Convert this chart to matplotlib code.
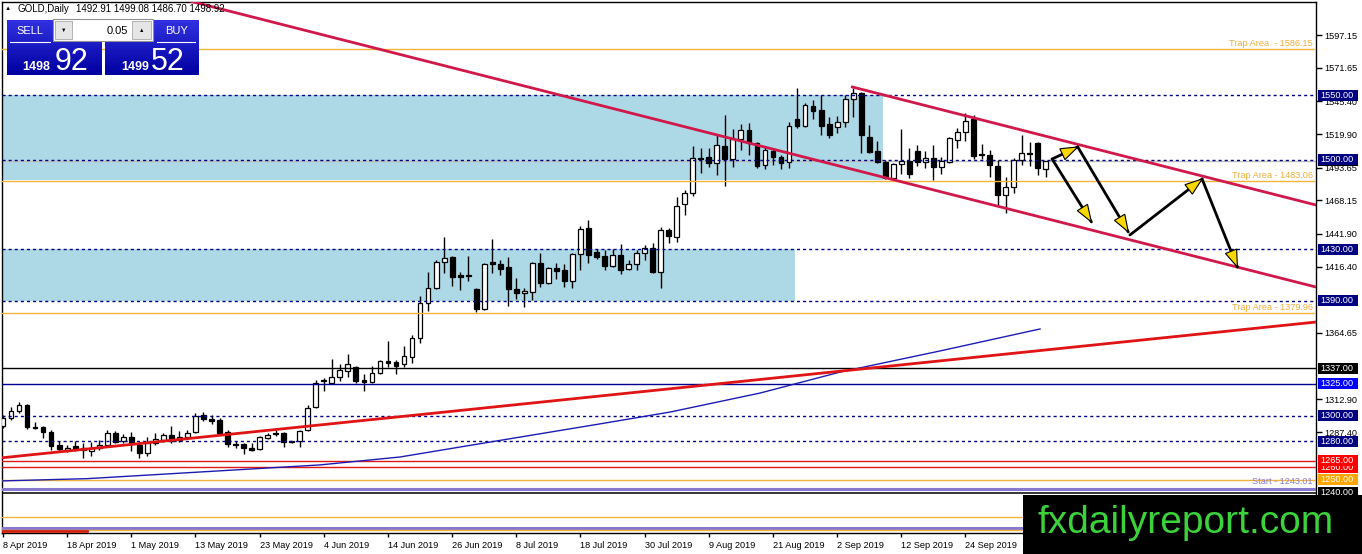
import matplotlib
matplotlib.use('Agg')
import matplotlib.pyplot as plt
from matplotlib.patches import Rectangle, Polygon
from matplotlib.transforms import IdentityTransform
import numpy as np

plt.rcParams['font.family'] = ['Liberation Sans', 'DejaVu Sans']

# ---------------- data ----------------
opens = [1292.1, 1298.3, 1303.8, 1308.5, 1291.3, 1291.3, 1287.4, 1277.3, 1273.4, 1276.5,
         1275.0, 1272.6, 1275.0, 1277.3, 1286.6, 1280.4, 1283.5, 1277.3, 1271.0, 1278.8,
         1281.2, 1285.1, 1281.2, 1283.5, 1287.4, 1300.7, 1297.5, 1296.8, 1287.4, 1278.1,
         1278.1, 1275.0, 1274.2, 1282.7, 1286.6, 1286.6, 1280.4, 1280.4, 1289.0, 1306.9,
         1327.2, 1325.6, 1330.3, 1335.0, 1338.1, 1328.0, 1326.4, 1333.4, 1342.8, 1342.0,
         1340.5, 1345.9, 1360.7, 1388.1, 1399.8, 1420.0, 1423.9, 1409.9, 1409.9, 1399.0,
         1383.4, 1420.0, 1418.5, 1416.1, 1399.0, 1395.9, 1396.6, 1419.3, 1403.7, 1415.4,
         1413.8, 1405.2, 1426.3, 1446.6, 1427.9, 1424.7, 1416.9, 1425.5, 1414.6, 1418.5,
         1427.1, 1431.0, 1412.2, 1445.0, 1439.6, 1465.3, 1473.9, 1501.2, 1502.0, 1497.3,
         1510.6, 1500.4, 1516.0, 1523.0, 1512.9, 1495.7, 1506.6, 1502.0, 1498.1, 1531.6,
         1526.2, 1541.8, 1538.6, 1527.7, 1525.4, 1529.3, 1547.2, 1551.9, 1517.6, 1506.6,
         1498.1, 1485.6, 1496.5, 1498.9, 1506.6, 1498.1, 1501.2, 1494.2, 1498.1, 1515.2,
         1521.5, 1531.6, 1504.3, 1503.5, 1494.9, 1472.3, 1478.6, 1499.6, 1505.1, 1512.9,
         1492.91]
highs = [1300.7, 1306.9, 1310.8, 1309.3, 1295.2, 1292.1, 1289.0, 1280.4, 1277.3, 1280.4,
         1278.8, 1279.6, 1281.2, 1289.0, 1288.2, 1285.8, 1287.4, 1279.6, 1283.5, 1286.6,
         1286.6, 1292.1, 1288.2, 1289.0, 1302.2, 1303.0, 1300.7, 1298.3, 1289.0, 1280.4,
         1278.8, 1278.8, 1284.3, 1286.6, 1289.0, 1287.4, 1280.7, 1289.0, 1308.5, 1328.0,
         1329.5, 1344.4, 1340.5, 1348.3, 1338.9, 1332.7, 1338.9, 1343.6, 1358.4, 1343.6,
         1354.5, 1363.1, 1393.5, 1412.2, 1421.6, 1439.6, 1424.7, 1412.2, 1424.7, 1399.8,
         1419.3, 1438.0, 1421.6, 1423.9, 1407.5, 1399.8, 1420.0, 1427.1, 1416.1, 1419.3,
         1418.5, 1427.1, 1448.1, 1452.8, 1430.2, 1429.4, 1430.2, 1434.1, 1421.6, 1429.4,
         1433.3, 1434.9, 1447.4, 1446.6, 1470.8, 1476.2, 1510.6, 1509.0, 1509.0, 1519.1,
         1534.7, 1523.8, 1527.7, 1528.5, 1513.7, 1509.8, 1508.2, 1503.5, 1529.3, 1555.8,
         1544.1, 1546.4, 1550.3, 1533.2, 1534.0, 1550.3, 1555.8, 1552.7, 1526.9, 1514.5,
         1499.6, 1497.3, 1523.8, 1509.0, 1511.3, 1506.6, 1511.3, 1502.0, 1517.6, 1524.6,
         1536.3, 1534.7, 1512.1, 1507.4, 1499.6, 1486.4, 1501.2, 1519.1, 1513.7, 1513.7,
         1499.08]
lows = [1290.5, 1296.8, 1302.2, 1289.8, 1289.8, 1282.7, 1273.4, 1272.6, 1271.8, 1272.6,
        1267.1, 1268.7, 1273.4, 1275.7, 1278.8, 1278.8, 1272.6, 1267.1, 1268.7, 1277.3,
        1279.6, 1278.8, 1279.6, 1282.7, 1286.6, 1296.0, 1293.6, 1285.1, 1275.7, 1275.0,
        1270.2, 1272.6, 1273.4, 1281.9, 1284.3, 1275.7, 1278.8, 1275.7, 1288.2, 1306.1,
        1319.4, 1324.9, 1327.2, 1330.3, 1325.6, 1319.4, 1325.6, 1332.7, 1338.1, 1332.7,
        1338.1, 1341.2, 1356.9, 1381.8, 1399.0, 1411.5, 1401.3, 1398.2, 1405.2, 1381.0,
        1382.6, 1411.5, 1409.9, 1385.7, 1391.2, 1384.9, 1390.4, 1400.5, 1402.9, 1406.8,
        1400.5, 1399.8, 1413.8, 1419.3, 1422.4, 1413.8, 1416.1, 1410.7, 1413.8, 1413.8,
        1421.6, 1411.5, 1399.8, 1434.9, 1435.7, 1456.7, 1471.5, 1489.5, 1494.2, 1487.9,
        1479.3, 1494.2, 1507.4, 1503.5, 1493.4, 1492.6, 1495.7, 1492.6, 1493.4, 1524.6,
        1525.4, 1531.6, 1519.1, 1516.8, 1520.7, 1525.4, 1533.2, 1505.1, 1505.1, 1497.3,
        1484.8, 1484.0, 1488.7, 1485.6, 1494.9, 1493.4, 1484.0, 1488.7, 1497.3, 1509.0,
        1514.5, 1500.4, 1500.4, 1486.4, 1463.7, 1458.3, 1473.9, 1495.7, 1494.9, 1488.0,
        1486.70]
closes = [1298.3, 1303.8, 1308.5, 1291.3, 1290.5, 1287.4, 1276.5, 1274.2, 1275.0, 1274.2,
          1273.4, 1275.0, 1277.3, 1286.6, 1279.6, 1283.5, 1278.1, 1271.0, 1278.8, 1281.9,
          1285.1, 1280.4, 1283.5, 1286.6, 1299.9, 1297.5, 1296.0, 1286.6, 1278.1, 1277.3,
          1275.0, 1273.4, 1283.5, 1285.1, 1285.8, 1279.6, 1279.6, 1288.2, 1306.1, 1325.6,
          1328.0, 1330.3, 1335.8, 1340.5, 1327.2, 1326.4, 1333.4, 1342.8, 1341.2, 1338.9,
          1346.7, 1360.7, 1388.1, 1399.8, 1420.0, 1423.2, 1408.3, 1408.3, 1409.1, 1383.4,
          1418.5, 1418.5, 1414.6, 1399.0, 1395.9, 1397.4, 1419.3, 1403.7, 1415.4, 1413.0,
          1405.2, 1426.3, 1445.8, 1425.5, 1423.9, 1416.9, 1425.5, 1413.8, 1418.5, 1427.1,
          1431.0, 1412.2, 1445.0, 1440.3, 1463.7, 1473.9, 1501.2, 1500.4, 1497.3, 1511.3,
          1500.4, 1516.0, 1523.0, 1512.9, 1494.9, 1507.4, 1502.0, 1497.3, 1526.2, 1526.2,
          1542.5, 1537.9, 1526.2, 1519.1, 1529.3, 1547.2, 1551.9, 1519.1, 1505.9, 1498.1,
          1485.6, 1496.5, 1498.9, 1488.7, 1498.1, 1501.2, 1494.2, 1498.9, 1516.8, 1521.5,
          1530.1, 1502.7, 1503.5, 1495.7, 1472.3, 1478.6, 1499.6, 1505.1, 1504.3, 1493.4,
          1498.92]

date_labels = ['8 Apr 2019', '18 Apr 2019', '1 May 2019', '13 May 2019', '23 May 2019',
               '4 Jun 2019', '14 Jun 2019', '26 Jun 2019', '8 Jul 2019', '18 Jul 2019',
               '30 Jul 2019', '9 Aug 2019', '21 Aug 2019', '2 Sep 2019', '12 Sep 2019',
               '24 Sep 2019']
bars_per_label = 8

# visible right-axis tick labels (others are hidden behind price boxes)
y_ticks = [1597.15, 1571.65, 1545.40, 1519.90, 1493.65, 1468.15, 1441.90, 1416.40,
           1364.65, 1312.90, 1287.40]

# moving average (read at some bar positions)
ma_idx = [-0.4, 10.5, 24.6, 39.5, 49.5, 62.3, 74.4, 83.2, 94.4, 104.4, 116.8, 129.3]
ma_vals = [1249.2, 1251.0, 1256.2, 1261.7, 1267.9, 1281.2, 1293.7, 1303.0, 1317.8,
           1334.2, 1350.6, 1367.8]

# trend lines: (bar, price) anchors
red_trend = [(-0.4, 1267.1), (163.7, 1373.2)]
channel_low = [(23.5, 1623.3), (163.7, 1400.5)]
channel_high = [(105.9, 1556.6), (163.7, 1464.5)]
bottom_red = [(-0.5, 1210.2), (10.5, 1210.2)]

# zones
zone_upper = (1484.0, 1550.0, 109.7)   # low, high, right end bar
zone_lower = (1390.0, 1430.0, 98.75)

# horizontal levels
dashed_levels = [1550.0, 1500.0, 1430.0, 1390.0, 1300.0, 1280.0]
trap_levels = [1586.15, 1483.06, 1379.96]
trap_texts = ['Trap Area  - 1586.15', 'Trap Area - 1483.06', 'Trap Area - 1379.96']
start_level = 1243.01
bid = 1498.92

# projected path arrows (bar, price)
path_pts = {'P1': (130.8, 1500.4), 'P2': (134.0, 1509.8), 'P3': (135.7, 1451.3),
            'P4': (140.3, 1443.5), 'P5': (140.5, 1441.1), 'P6': (149.5, 1484.8),
            'P7': (153.9, 1416.1)}

# price label boxes (price, text, colour), drawn in this order
price_boxes = [(1550.0, '1550.00', '#000080'), (1498.92, '1498.92', '#000000'),
               (1500.0, '1500.00', '#000080'), (1430.0, '1430.00', '#000080'),
               (1390.0, '1390.00', '#000080'), (1337.0, '1337.00', '#000000'),
               (1325.0, '1325.00', '#0000ff'), (1300.0, '1300.00', '#000080'),
               (1280.0, '1280.00', '#000080'), (1260.0, '1260.00', '#ff0000'),
               (1265.0, '1265.00', '#ff0000'), (1250.0, '1250.00', '#ffa500'),
               (1240.0, '1240.00', '#000000')]

# ---------------- figure ----------------
W, H = 1362, 554
fig = plt.figure(figsize=(W / 100, H / 100), dpi=100)
fig.patch.set_facecolor('white')


def fx(x):
    return x / W


def fy(y):
    return 1 - y / H


ax = fig.add_axes([fx(2), fy(533), (1316 - 2) / W, (533 - 2) / H])
ax.set_facecolor('white')
ymin, ymax = 1208.6, 1622.9
ax.set_ylim(ymin, ymax)
ax.set_xlim(-0.12, 163.7)
ppu = (533 - 2) / (ymax - ymin)   # pixels per price unit

for s in ax.spines.values():
    s.set_color('black')
    s.set_linewidth(1)

# zones
for lo, hi, right in (zone_upper, zone_lower):
    ax.add_patch(Rectangle((-5, lo), right + 5, hi - lo, facecolor='#add8e6',
                           edgecolor='none', zorder=1))

# bid line
ax.axhline(bid, color='#c0c0c0', lw=1, zorder=1.5)

# candles
idx = np.arange(len(opens))
o = np.array(opens); h = np.array(highs); l = np.array(lows); c = np.array(closes)
ax.vlines(idx, l, h, color='black', lw=1, zorder=4)
up = c >= o
blo = np.minimum(o, c)
bh = np.maximum(np.abs(c - o), 0.35)
ax.bar(idx[up], bh[up], bottom=blo[up], width=0.6, facecolor='white',
       edgecolor='black', lw=0.9, zorder=5)
ax.bar(idx[~up], bh[~up], bottom=blo[~up], width=0.6, facecolor='black',
       edgecolor='black', lw=0.9, zorder=5)

# horizontal levels
for p in dashed_levels:
    ax.axhline(p, color='#000080', lw=1, dashes=(2.2, 2.2), zorder=6)
orange = '#f0b43c'
for p, t in zip(trap_levels, trap_texts):
    ax.axhline(p, color=orange, lw=1, zorder=6)
    ax.annotate(t, xy=(1.0, p), xycoords=ax.get_yaxis_transform(), xytext=(-3, 1.5),
                textcoords='offset pixels', ha='right', va='bottom', fontsize=6.6,
                color='#f0ae3a', zorder=7)
ax.axhline(1337.0, color='black', lw=1, zorder=6)
ax.axhline(1325.0, color='#000090', lw=1, zorder=6)
ax.axhline(1265.0, color='#e01818', lw=1, zorder=6)
ax.axhline(1260.0, color='#e01818', lw=1, zorder=6)
ax.axhline(1250.0, color=orange, lw=1, zorder=6)
ax.axhline(start_level, color='#8878d0', lw=2.2, zorder=6)
ax.annotate('Start - %.2f' % start_level, xy=(1.0, start_level),
            xycoords=ax.get_yaxis_transform(), xytext=(-3, 2.5),
            textcoords='offset pixels', ha='right', va='bottom', fontsize=6.6,
            color='#8a80d2', zorder=7)
ax.axhline(1240.0, color='black', lw=1.1, zorder=6)
ax.axhline(1221.1, color=orange, lw=1, zorder=6)
ax.axhline(1212.7, color='#8878d0', lw=2.2, zorder=6)
ax.axhline(1210.9, color=orange, lw=1, zorder=6)

# moving average & trendlines
ax.plot(ma_idx, ma_vals, color='#1c1cb4', lw=1, zorder=7)
ax.plot(*zip(*red_trend), color='#e01414', lw=2, zorder=7)
ax.plot(*zip(*channel_low), color='#d0184a', lw=2, zorder=7)
ax.plot(*zip(*channel_high), color='#d0184a', lw=2, zorder=7)
ax.plot(*zip(*bottom_red), color='#d02010', lw=2, zorder=7)


def arrow(a, b, head=True):
    p0 = path_pts[a]; p1 = path_pts[b]
    ax.plot([p0[0], p1[0]], [p0[1], p1[1]], color='black', lw=2, zorder=8,
            solid_capstyle='round')
    if head:
        A = ax.transData.transform(p0); B = ax.transData.transform(p1)
        u = (B - A) / np.hypot(*(B - A)); n = np.array([-u[1], u[0]])
        L, hw = 17, 6
        base = B - L * u
        tri = np.array([B, base + hw * n, base - hw * n])
        ax.add_patch(Polygon(tri, closed=True, transform=IdentityTransform(),
                             facecolor='#f8d800', edgecolor='black', lw=0.8, zorder=9))


arrow('P1', 'P2')
arrow('P1', 'P3')
arrow('P2', 'P4')
arrow('P5', 'P6')
arrow('P6', 'P7')

# axes ticks
ax.yaxis.tick_right()
ax.set_yticks(y_ticks)
ax.set_yticklabels(['%.2f' % v for v in y_ticks])
ax.tick_params(axis='y', direction='out', length=4, width=1, pad=2, labelsize=6.6)
xt = [i * bars_per_label for i in range(len(date_labels))]
ax.set_xticks(xt)
ax.set_xticklabels(date_labels)
ax.tick_params(axis='x', direction='out', length=3, width=1, pad=2.5, labelsize=6.6)
for lbl in ax.get_xticklabels():
    lbl.set_ha('left')

# price label boxes on the right axis (each later box covers earlier ones)
bh_px = 11
for k, (p, t, col) in enumerate(price_boxes):
    half = bh_px / 2 / ppu
    z = 20 + 2 * k
    ax.add_patch(Rectangle((1.0015, p - half), 0.0305, 2 * half, facecolor=col,
                           edgecolor='none', transform=ax.get_yaxis_transform(),
                           clip_on=False, zorder=z))
    ax.text(1.0035, p, t, transform=ax.get_yaxis_transform(), ha='left', va='center',
            fontsize=6.6, color='white', clip_on=False, zorder=z + 1)

# ---------------- header / trade panel ----------------
fig.text(fx(5), fy(8.5), '\u25b2', fontsize=4.5, va='center', ha='left')
fig.text(fx(17), fy(8.5), 'GOLD,Daily', fontsize=7, va='center', ha='left')
fig.text(fx(76), fy(8.5), '%.2f %.2f %.2f %.2f' % (opens[-1], highs[-1], lows[-1], closes[-1]),
         fontsize=7, va='center', ha='left')


def frect(x0, y0, x1, y1, **kw):
    r = Rectangle((fx(x0), fy(y1)), (x1 - x0) / W, (y1 - y0) / H,
                  transform=fig.transFigure, **kw)
    fig.add_artist(r)
    return r


top_col = np.array([0x30, 0x30, 0xe0]) / 255
bot_col = np.array([0x00, 0x00, 0xa0]) / 255
nstrip = 28
for x0, x1 in ((7, 102), (105, 199)):
    for k in range(nstrip):
        y0 = 20 + (75 - 20) * k / nstrip
        y1 = 20 + (75 - 20) * (k + 1) / nstrip + 0.3
        t = k / (nstrip - 1)
        frect(x0, y0, x1, y1, facecolor=top_col * (1 - t) + bot_col * t,
              edgecolor='none', zorder=30)

fig.add_artist(plt.Line2D([fx(10), fx(50)], [fy(42), fy(42)], color='white', lw=0.8, zorder=31))
fig.add_artist(plt.Line2D([fx(157), fx(195)], [fy(42), fy(42)], color='white', lw=0.8, zorder=31))
fig.text(fx(16), fy(30.5), 'SELL', fontsize=8, color='white', va='center', ha='left', zorder=32)
fig.text(fx(165), fy(30.5), 'BUY', fontsize=8, color='white', va='center', ha='left', zorder=32)
fig.text(fx(22), fy(70.5), '1498', fontsize=9, fontweight='bold', color='white',
         va='baseline', ha='left', zorder=32)
fig.text(fx(55), fy(70.5), '92', fontsize=22, color='white', va='baseline', ha='left', zorder=32)
fig.text(fx(121), fy(70.5), '1499', fontsize=9, fontweight='bold', color='white',
         va='baseline', ha='left', zorder=32)
fig.text(fx(151), fy(70.5), '52', fontsize=22, color='white', va='baseline', ha='left', zorder=32)

# lot size box
frect(53, 19, 153, 41, facecolor='white', edgecolor='#909090', lw=0.8, zorder=33)
frect(55, 21, 72, 39, facecolor='#e6e6e6', edgecolor='#a8a8a8', lw=0.6, zorder=34)
frect(132, 21, 151, 39, facecolor='#e6e6e6', edgecolor='#a8a8a8', lw=0.6, zorder=34)
fig.text(fx(63.5), fy(30), '\u25bc', fontsize=4, ha='center', va='center', zorder=35)
fig.text(fx(141.5), fy(30), '\u25b2', fontsize=4, ha='center', va='center', zorder=35)
fig.text(fx(128), fy(30.5), '0.05', fontsize=8, ha='right', va='center', zorder=35)

# watermark
frect(1023, 495, 1363, 555, facecolor='black', edgecolor='none', zorder=40)
fig.text(fx(1037), fy(533), 'fxdailyreport.com', fontsize=28, color='#3cd23c',
         ha='left', va='baseline', zorder=41)

fig.savefig('out.png', dpi=100, facecolor='white')
